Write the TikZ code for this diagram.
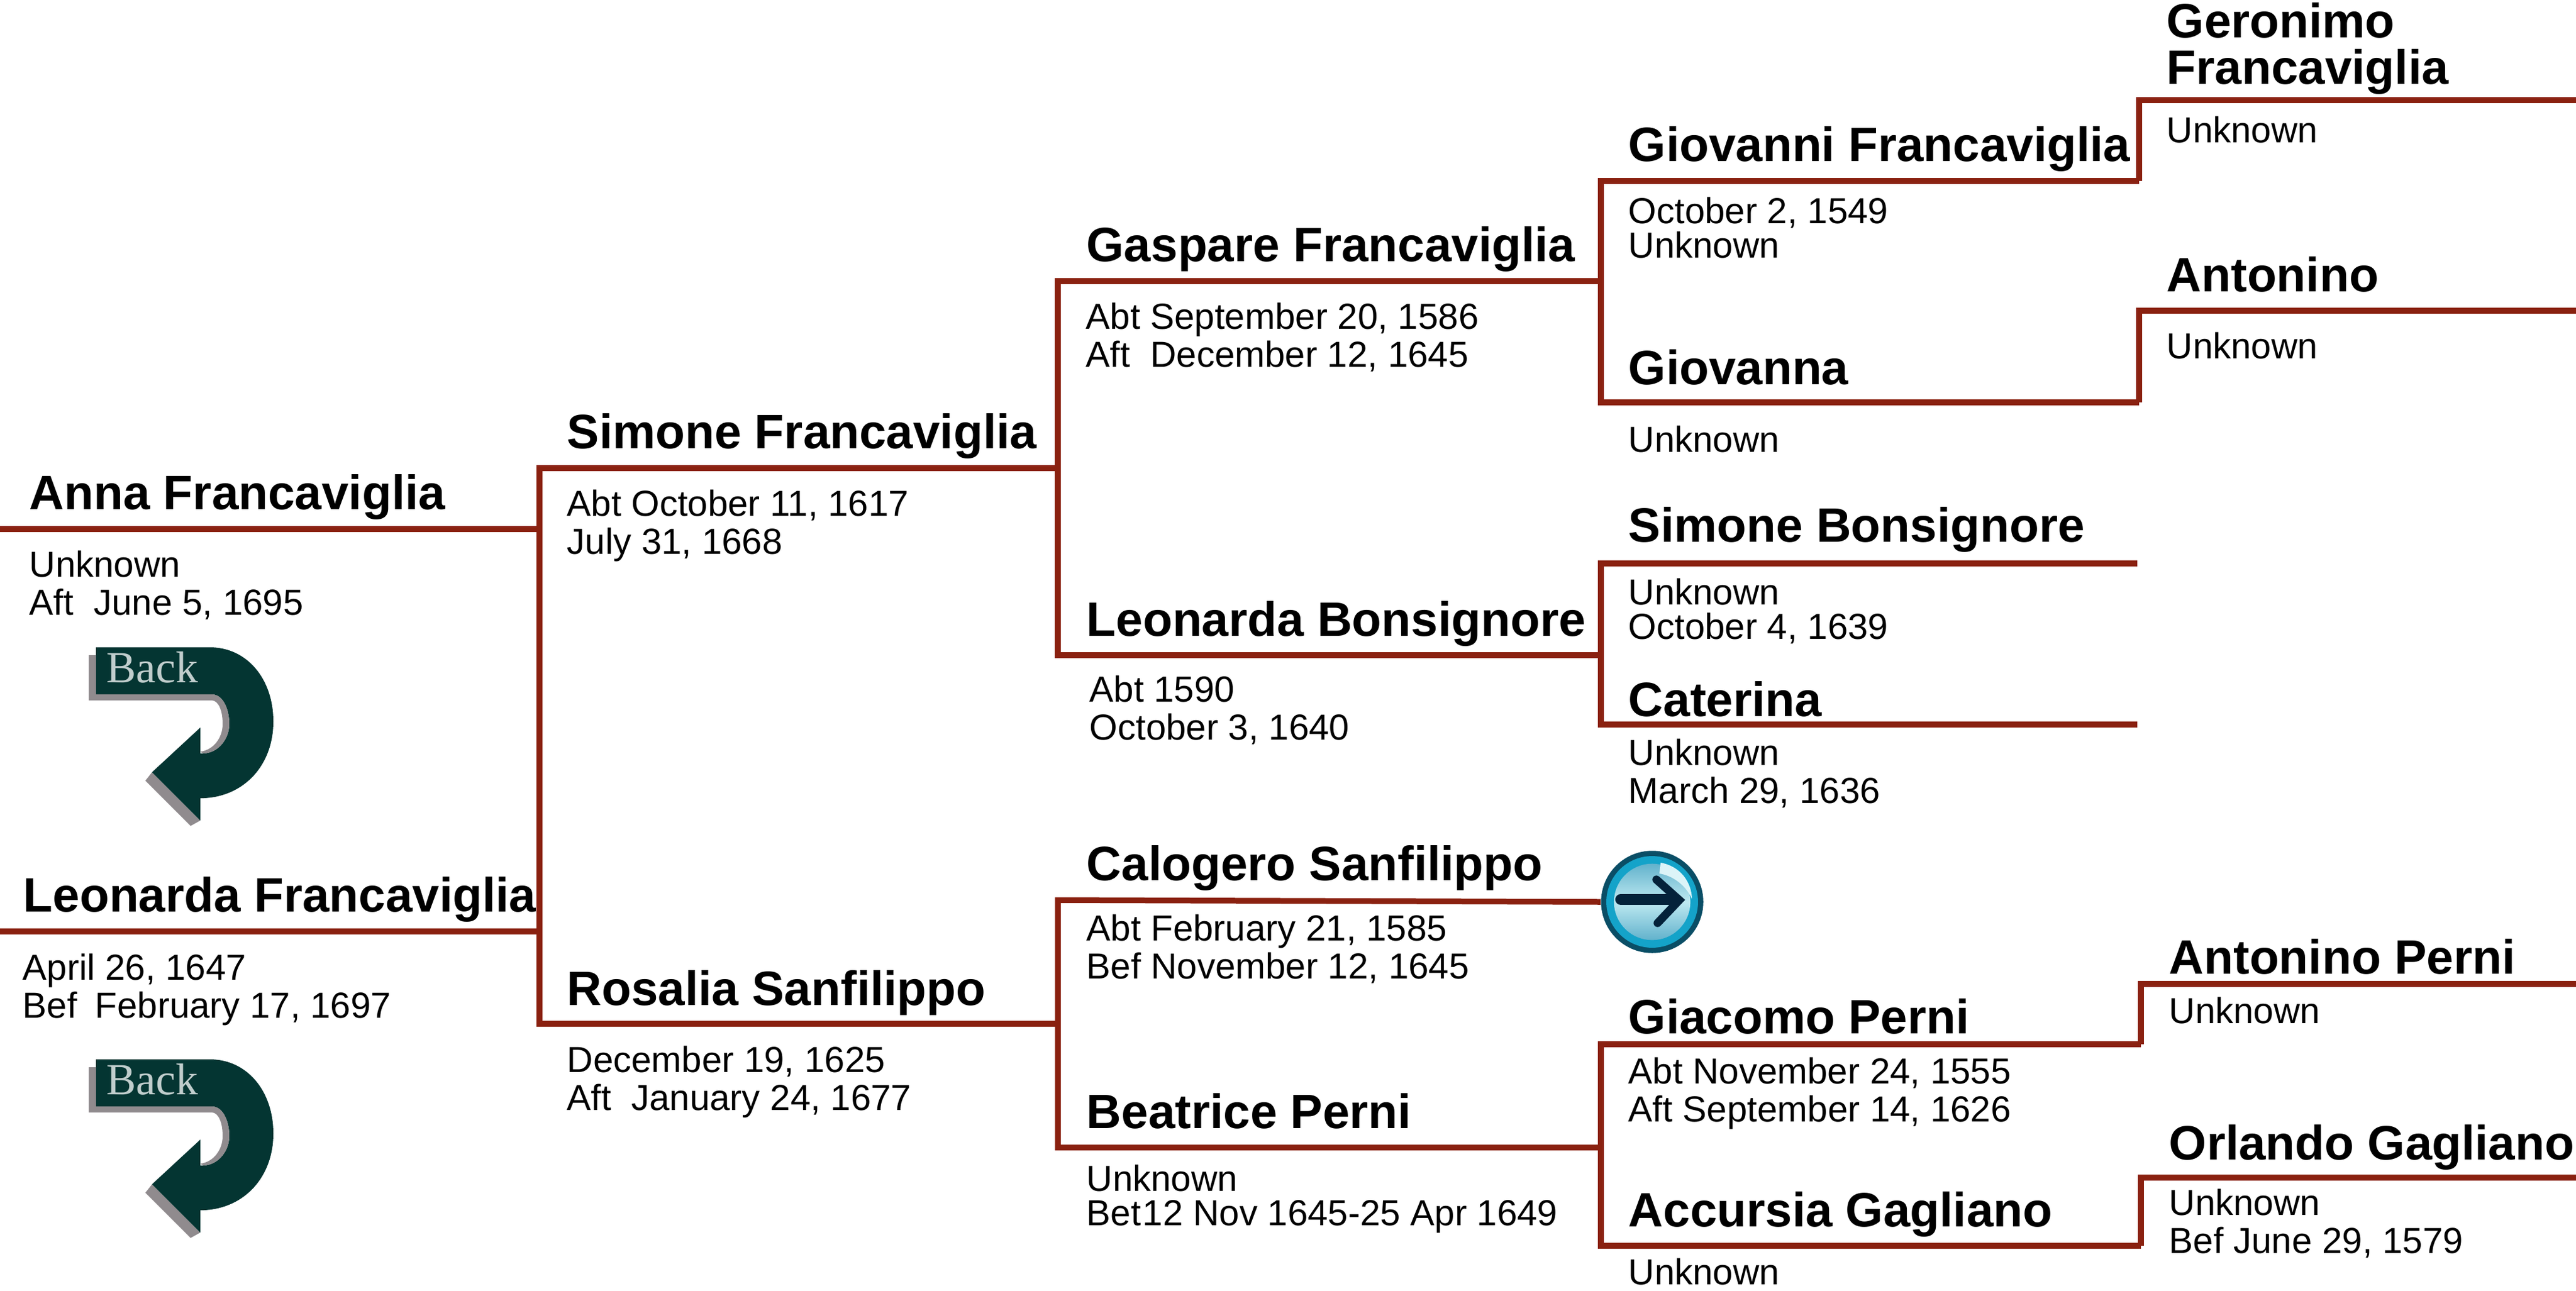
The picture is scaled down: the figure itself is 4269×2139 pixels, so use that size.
\documentclass[tikz,border=0pt]{standalone}
\usepackage{fontspec}
\setmainfont{Liberation Sans}
\newfontfamily\backfont{Liberation Serif}
\definecolor{linered}{HTML}{8A2110}
\definecolor{arrowteal}{HTML}{043532}
\definecolor{arrowgrey}{HTML}{908B8E}
\definecolor{btnrim}{HTML}{0A4E66}
\definecolor{btnblue}{HTML}{14A3C9}
\definecolor{btnmid}{HTML}{62B2CC}
\definecolor{btnlight}{HTML}{BEE9F1}
\definecolor{btnshine}{HTML}{DCF4F8}
\definecolor{btnnavy}{HTML}{04223A}
\tikzset{
	pname/.style = {anchor=base west, inner sep=0, align=left, font=\bfseries\fontsize{22.76}{22}\selectfont},
	pdate/.style = {anchor=base west, inner sep=0, align=left, font=\fontsize{17.07}{17.64}\selectfont},
	pdatetight/.style = {pdate, font=\fontsize{17.07}{16.2}\selectfont},
	branch/.style = {draw=linered, line width=2.7pt},
	backarrow/.pic = {
		\fill[arrowgrey] (105,207) -- (94,221) -- (169,296) -- (185,287) -- cycle;
		\fill[arrowteal] (12,0) -- (201,0) .. controls (262,0) and (306,52) .. (306,123) .. controls (306,195) and (258,247) .. (191,250) -- (185,250) -- (185,287) -- (105,207) -- (185,133) -- (185,176) -- (190,176) .. controls (215,175) and (233,152) .. (233,127) .. controls (233,105) and (224,78) .. (204,78) -- (12,78) -- cycle;
		\fill[arrowgrey] (0,13) -- (12,13) -- (12,78) -- (204,78) .. controls (224,78) and (233,105) .. (233,127) .. controls (233,152) and (215,175) .. (190,176) -- (185,173) .. controls (207,170) and (222,150) .. (222,127) .. controls (222,105) and (215,88) .. (204,88) -- (0,88) -- cycle;
		\node[anchor=base west, inner sep=0, text=white!75!arrowteal, font=\backfont\fontsize{21}{21}\selectfont] (backlabel) at (29,58) {Back};
	},
}
\begin{document}
\begin{tikzpicture}[x=0.01cm, y=-0.01cm]
	\useasboundingbox (0,0) rectangle (4269,2139);

	% ends of the lines
	\coordinate (annaL) at (0,877);
	\coordinate (annaR) at (894,877);
	\coordinate (leofL) at (0,1544);
	\coordinate (leofR) at (894,1544);
	\coordinate (simoneL) at (894,776);
	\coordinate (simoneR) at (1753,776);
	\coordinate (rosaliaL) at (894,1697);
	\coordinate (rosaliaR) at (1753,1697);
	\coordinate (gaspareL) at (1753,466);
	\coordinate (gaspareR) at (2653,466);
	\coordinate (leobL) at (1753,1086);
	\coordinate (leobR) at (2653,1086);
	\coordinate (calogeroL) at (1753,1492);
	\coordinate (beatriceL) at (1753,1902);
	\coordinate (beatriceR) at (2653,1902);
	\coordinate (giovanniL) at (2653,300);
	\coordinate (giovanniR) at (3545,300);
	\coordinate (giovannaL) at (2653,667);
	\coordinate (giovannaR) at (3545,667);
	\coordinate (simonebL) at (2653,934);
	\coordinate (simonebR) at (3542,934);
	\coordinate (caterinaL) at (2653,1201);
	\coordinate (caterinaR) at (3542,1201);
	\coordinate (giacomoL) at (2653,1731);
	\coordinate (giacomoR) at (3548,1731);
	\coordinate (accursiaL) at (2653,2065);
	\coordinate (accursiaR) at (3548,2065);
	\coordinate (geronimoL) at (3545,166);
	\coordinate (geronimoR) at (4269,166);
	\coordinate (antoninoL) at (3545,515);
	\coordinate (antoninoR) at (4269,515);
	\coordinate (aperniL) at (3548,1631);
	\coordinate (aperniR) at (4269,1631);
	\coordinate (orlandoL) at (3548,1952);
	\coordinate (orlandoR) at (4269,1952);

	% names
	\node[pname] (anna) at (48,844) {Anna Francaviglia};
	\node[pname] (leof) at (38,1511) {Leonarda Francaviglia};
	\node[pname] (simone) at (939,743) {Simone Francaviglia};
	\node[pname] (rosalia) at (939,1666) {Rosalia Sanfilippo};
	\node[pname] (gaspare) at (1800,433) {Gaspare Francaviglia};
	\node[pname] (leob) at (1800,1054) {Leonarda Bonsignore};
	\node[pname] (calogero) at (1800,1459) {Calogero Sanfilippo};
	\node[pname] (beatrice) at (1800,1870) {Beatrice Perni};
	\node[pname] (giovanni) at (2698,267) {Giovanni Francaviglia};
	\node[pname] (giovanna) at (2698,637) {Giovanna};
	\node[pname] (simoneb) at (2698,898) {Simone Bonsignore};
	\node[pname] (caterina) at (2698,1187) {Caterina};
	\node[pname] (giacomo) at (2698,1713) {Giacomo Perni};
	\node[pname] (accursia) at (2698,2033) {Accursia Gagliano};
	\node[pname] (geronimo) at (3590,139) {Geronimo\\[-0.2pt]Francaviglia};
	\node[pname] (antonino) at (3590,483) {Antonino};
	\node[pname] (aperni) at (3594,1614) {Antonino Perni};
	\node[pname] (orlando) at (3594,1922) {Orlando Gagliano};

	% dates, placed by their last line
	\node[pdate] (annad) at (48,1019) {Unknown\\Aft\ \ June 5, 1695};
	\node[pdate] (leofd) at (37,1687) {April 26, 1647\\Bef\ \kern-1pt\ February 17, 1697};
	\node[pdate] (simoned) at (939,918) {Abt October 11, 1617\\July 31, 1668};
	\node[pdate] (rosaliad) at (939,1840) {December 19, 1625\\Aft\ \ January 24, 1677};
	\node[pdate] (gaspared) at (1799,608) {Abt September 20, 1586\\Aft\ \ December 12, 1645};
	\node[pdate] (leobd) at (1805,1226) {Abt 1590\\October 3, 1640};
	\node[pdate] (calogerod) at (1800,1622) {Abt February 21, 1585\\Bef November 12, 1645};
	\node[pdatetight] (beatriced) at (1800,2031) {Unknown\\Bet\kern0.9pt 12 Nov 1645-25 Apr 1649};
	\node[pdatetight] (giovannid) at (2698,427) {October 2, 1549\\Unknown};
	\node[pdate] (giovannad) at (2698,749) {Unknown};
	\node[pdatetight] (simonebd) at (2698,1059) {Unknown\\October 4, 1639};
	\node[pdate] (caterinad) at (2698,1331) {Unknown\\March 29, 1636};
	\node[pdate] (giacomod) at (2698,1859) {Abt November 24, 1555\\Aft September 14, 1626};
	\node[pdate] (accursiad) at (2698,2129) {Unknown};
	\node[pdate] (geronimod) at (3590,236) {Unknown};
	\node[pdate] (antoninod) at (3590,594) {Unknown};
	\node[pdate] (apernid) at (3594,1696) {Unknown};
	\node[pdate] (orlandod) at (3594,2077) {Unknown\\Bef June 29, 1579};

	% button with the arrow
	\node[circle, inner sep=0, minimum size=48.2pt, fill=btnrim] (more) at (2738,1495) {};
	\node[circle, inner sep=0, minimum size=43.2pt, fill=btnblue] (morering) at (more) {};
	\node[circle, inner sep=0, minimum size=36pt, top color=btnmid, bottom color=btnmid, middle color=btnlight] (moreball) at (more) {};
	\fill[btnshine] (2752,1430) .. controls (2785,1436) and (2803,1462) .. (2804,1490) .. controls (2795,1470) and (2775,1452) .. (2750,1448) -- cycle;
	\draw[btnnavy, line width=5.2pt, line cap=round] (2686,1491) -- (2775,1491);
	\draw[btnnavy, line width=3.8pt, line cap=round, line join=miter] (2745,1458) -- (2783,1492) -- (2747,1530);

	% lines
	\draw[branch] (annaL) -- (annaR);
	\draw[branch] (leofL) -- (leofR);
	\draw[branch] (simoneR) -- (simoneL) -- (rosaliaL) -- (rosaliaR);
	\draw[branch] (gaspareR) -- (gaspareL) -- (leobL) -- (leobR);
	\draw[branch] (more.west) -- (calogeroL) -- (beatriceL) -- (beatriceR);
	\draw[branch] (giovanniR) -- (giovanniL) -- (giovannaL) -- (giovannaR);
	\draw[branch] (simonebR) -- (simonebL) -- (caterinaL) -- (caterinaR);
	\draw[branch] (giacomoR) -- (giacomoL) -- (accursiaL) -- (accursiaR);
	\draw[branch] (geronimoR) -- (geronimoL) -- (giovanniR);
	\draw[branch] (antoninoR) -- (antoninoL) -- (giovannaR);
	\draw[branch] (aperniR) -- (aperniL) -- (giacomoR);
	\draw[branch] (orlandoR) -- (orlandoL) -- (accursiaR);

	% back arrows
	\pic (backA) at (147,1073) {backarrow};
	\pic (backB) at (147,1756) {backarrow};
\end{tikzpicture}
\end{document}
